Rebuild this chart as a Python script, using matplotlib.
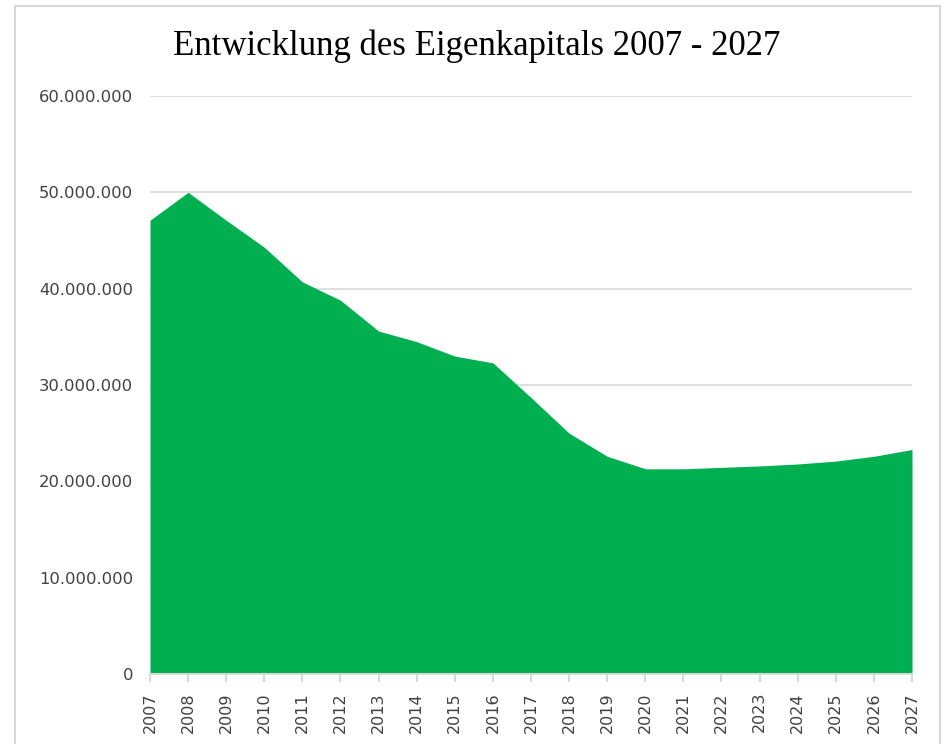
import matplotlib
matplotlib.use("Agg")
import matplotlib.pyplot as plt
from matplotlib.patches import Rectangle
from matplotlib.ticker import FuncFormatter, MultipleLocator

years = list(range(2007, 2028))
equity = [47.1e6, 50.0e6, 47.1e6, 44.3e6, 40.7e6, 38.8e6, 35.6e6, 34.5e6,
          33.0e6, 32.3e6, 28.7e6, 25.0e6, 22.6e6, 21.3e6, 21.3e6, 21.45e6,
          21.6e6, 21.8e6, 22.1e6, 22.6e6, 23.3e6]
title = "Entwicklung des Eigenkapitals 2007 - 2027"

W, H = 948, 744
fig = plt.figure(figsize=(W / 100, H / 100), dpi=100)
fig.patch.set_facecolor("white")

# outer chart border
fig.patches.append(Rectangle((15 / W, -0.05), (940 - 15) / W, 1.05 - 6 / H,
                             transform=fig.transFigure, fill=False,
                             edgecolor="#D9D9D9", linewidth=1.5))

ax = fig.add_axes([150 / W, 1 - 674 / H, (912 - 150) / W, (674 - 96) / H])
ax.fill_between(years, equity, 0, color="#00B050", linewidth=0, zorder=2)

ax.set_xlim(years[0], years[-1])
ax.set_ylim(0, 60e6)
ax.yaxis.set_major_locator(MultipleLocator(10e6))
ax.yaxis.set_major_formatter(FuncFormatter(lambda v, p: f"{int(v):,}".replace(",", ".")))
ax.set_xticks(years)
ax.set_xticklabels([str(y) for y in years], rotation=90, fontsize=11.5, color="#404040")

ax.grid(axis="y", color="#D9D9D9", linewidth=1.2, zorder=0)
ax.set_axisbelow(True)
for s in ["top", "right", "left"]:
    ax.spines[s].set_visible(False)
ax.spines["bottom"].set_color("#D9D9D9")
ax.spines["bottom"].set_linewidth(1.5)
ax.spines["bottom"].set_zorder(3)
ax.tick_params(axis="y", length=0, pad=12, labelsize=11.8, labelcolor="#404040")
ax.tick_params(axis="x", length=6, width=1.5, color="#D9D9D9", pad=7)

fig.text(477 / W, 1 - 46 / H, title, ha="center", va="center",
         fontsize=25, family="Liberation Serif", color="#000000")

fig.savefig("out.png", dpi=100)
